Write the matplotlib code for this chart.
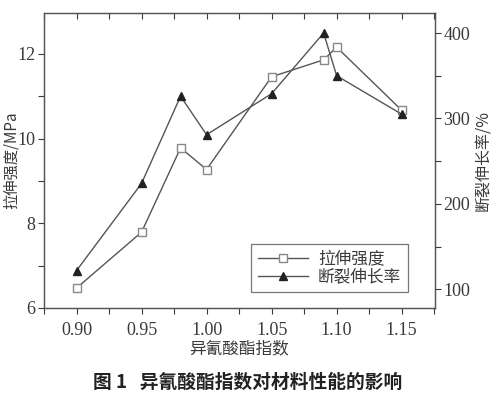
import matplotlib.pyplot as plt
from matplotlib.ticker import MultipleLocator

# isocyanate index vs. tensile strength (MPa) and elongation at break (%)
index = [0.90, 0.95, 0.98, 1.00, 1.05, 1.09, 1.10, 1.15]
strength = [6.47, 7.79, 9.78, 9.27, 11.46, 11.86, 12.16, 10.67]
elongation = [122, 224, 326, 281, 329, 400, 350, 305]

xticks = [0.90, 0.95, 1.00, 1.05, 1.10, 1.15]
xticklabels = ["0.90", "0.95", "1.00", "1.05", "1.10", "1.15"]

cjk = ["Noto Sans CJK SC", "DejaVu Sans"]
num = "Liberation Serif"
ink = "#3a3a3a"

fig = plt.figure(figsize=(4.96, 4.01), dpi=100)
ax = fig.add_axes([0.0887, 0.232, 0.788, 0.736])
ax2 = ax.twinx()

l1, = ax.plot(index, strength, color="#555555", lw=1.0, marker="s", ms=5.5,
              mfc="white", mec="#888888", mew=1.0, label="拉伸强度")
l2, = ax2.plot(index, elongation, color="#555555", lw=1.0, marker="^", ms=6.2,
               mfc="#222222", mec="#222222", label="断裂伸长率")

ax.set_xlim(0.875, 1.1755)
ax.set_ylim(6, 12.97)
ax2.set_ylim(78.3, 423.6)

ax.set_xticks(xticks)
ax.set_xticklabels(xticklabels)
ax.xaxis.set_minor_locator(MultipleLocator(0.025))
ax.set_yticks([6, 8, 10, 12])
ax.yaxis.set_minor_locator(MultipleLocator(1))
ax2.set_yticks([100, 200, 300, 400])
ax2.yaxis.set_minor_locator(MultipleLocator(50))

ax.tick_params(axis="x", which="both", direction="out", length=4,
               width=0.8, colors=ink, labelsize=13, pad=6)
ax.tick_params(axis="y", which="both", direction="out", length=4, width=0.8,
               colors=ink, labelsize=13, pad=2)
ax2.tick_params(axis="y", which="both", direction="out", length=4, width=0.8,
                colors=ink, labelsize=13, pad=2)
for lab in ax.get_xticklabels() + ax.get_yticklabels() + ax2.get_yticklabels():
    lab.set_family(num)

# top ticks point inward
sec = ax.secondary_xaxis("top")
sec.set_xticks(xticks)
sec.xaxis.set_minor_locator(MultipleLocator(0.025))
sec.tick_params(axis="x", which="both", direction="in", length=4, width=0.8,
                colors=ink, labeltop=False)
ax.tick_params(axis="x", which="both", top=False)

for s in list(ax.spines.values()) + list(ax2.spines.values()):
    s.set_color("#555555")
    s.set_linewidth(0.9)
sec.spines["top"].set_visible(False)

ax.set_xlabel("异氰酸酯指数", family=cjk, fontsize=12, color=ink)
ax.xaxis.set_label_coords(0.5, -0.108)
ax.set_ylabel("拉伸强度/MPa", family=cjk, fontsize=11, color=ink)
ax.yaxis.set_label_coords(-0.063, 0.5)
ax2.set_ylabel("断裂伸长率/%", family=cjk, fontsize=11.5, color=ink)
ax2.yaxis.set_label_coords(1.102, 0.5)

leg = ax2.legend([l1, l2], ["拉伸强度", "断裂伸长率"], loc="lower left",
                 bbox_to_anchor=(0.53, 0.054), prop={"family": cjk, "size": 12},
                 frameon=True, fancybox=False, edgecolor="#555555",
                 handlelength=3.0, handletextpad=0.6, borderpad=0.4,
                 labelspacing=0.05, borderaxespad=0)
leg.get_frame().set_linewidth(0.9)
for t in leg.get_texts():
    t.set_color(ink)

fig.text(0.5, 0.047, "图 1   异氰酸酯指数对材料性能的影响", family=cjk,
         fontsize=13.5, weight="bold", color="#222222", ha="center", va="center")

fig.savefig("out.png", dpi=100)
